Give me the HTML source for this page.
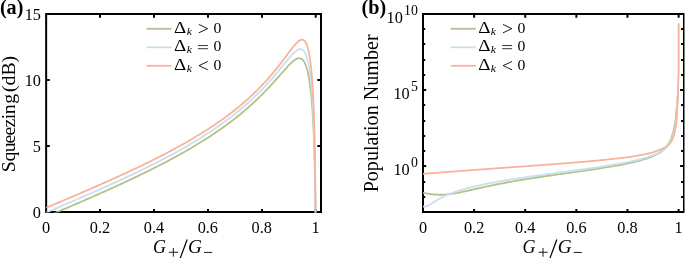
<!DOCTYPE html>
<html><head><meta charset="utf-8"><title>fig</title>
<style>html,body{margin:0;padding:0;background:#fff;}svg{display:block;}text{font-family:"Liberation Serif",serif;fill:#000;}</style></head><body>
<svg width="685" height="258" viewBox="0 0 685 258">
<rect width="685" height="258" fill="#fff"/>
<path d="M99.00 209.00H101.00V212.00H99.00Z M99.00 14.00H101.00V17.80H99.00Z M153.00 209.00H155.00V212.00H153.00Z M153.00 14.00H155.00V17.80H153.00Z M207.00 209.00H209.00V212.00H207.00Z M207.00 14.00H209.00V17.80H207.00Z M261.00 209.00H263.00V212.00H261.00Z M261.00 14.00H263.00V17.80H261.00Z M314.70 209.00H316.70V212.00H314.70Z M314.70 14.00H316.70V17.80H314.70Z M46.15 145.00H49.80V147.00H46.15Z M317.30 145.00H321.00V147.00H317.30Z M46.15 79.00H49.80V81.00H46.15Z M317.30 79.00H321.00V81.00H317.30Z" fill="#000"/>
<rect x="46.15" y="14.00" width="274.85" height="198.00" fill="none" stroke="#000" stroke-width="2"/>
<path d="M473.12 209.00H475.12V212.00H473.12Z M473.12 14.00H475.12V17.70H473.12Z M524.24 209.00H526.24V212.00H524.24Z M524.24 14.00H526.24V17.70H524.24Z M575.36 209.00H577.36V212.00H575.36Z M575.36 14.00H577.36V17.70H575.36Z M626.48 209.00H628.48V212.00H626.48Z M626.48 14.00H628.48V17.70H626.48Z M677.60 209.00H679.60V212.00H677.60Z M677.60 14.00H679.60V17.70H677.60Z M423.00 28.00H425.20V30.00H423.00Z M681.10 28.00H684.00V30.00H681.10Z M423.00 43.00H425.20V45.00H423.00Z M681.10 43.00H684.00V45.00H681.10Z M423.00 59.00H425.20V61.00H423.00Z M681.10 59.00H684.00V61.00H681.10Z M423.00 74.00H425.20V76.00H423.00Z M681.10 74.00H684.00V76.00H681.10Z M423.00 89.00H426.20V91.00H423.00Z M680.10 89.00H684.00V91.00H680.10Z M423.00 104.00H425.20V106.00H423.00Z M681.10 104.00H684.00V106.00H681.10Z M423.00 120.00H425.20V122.00H423.00Z M681.10 120.00H684.00V122.00H681.10Z M423.00 135.00H425.20V137.00H423.00Z M681.10 135.00H684.00V137.00H681.10Z M423.00 150.00H425.20V152.00H423.00Z M681.10 150.00H684.00V152.00H681.10Z M423.00 165.00H426.20V167.00H423.00Z M680.10 165.00H684.00V167.00H680.10Z M423.00 181.00H425.20V183.00H423.00Z M681.10 181.00H684.00V183.00H681.10Z M423.00 196.00H425.20V198.00H423.00Z M681.10 196.00H684.00V198.00H681.10Z" fill="#000"/>
<rect x="423.00" y="14.00" width="261.00" height="198.00" fill="none" stroke="#000" stroke-width="2"/>
<g fill="none" stroke-width="1.80" stroke-linejoin="round">
<clipPath id="ca"><rect x="45.85" y="14.00" width="274.85" height="198.40"/></clipPath>
<g clip-path="url(#ca)">
<path d="M46.30 216.71 L47.52 216.19 L48.74 215.67 L49.95 215.15 L51.17 214.63 L52.39 214.11 L53.61 213.59 L54.83 213.06 L56.04 212.54 L57.26 212.02 L58.48 211.50 L59.70 210.98 L60.92 210.46 L62.13 209.94 L63.35 209.41 L64.57 208.89 L65.79 208.37 L67.01 207.85 L68.22 207.32 L69.44 206.80 L70.66 206.27 L71.88 205.75 L73.10 205.23 L74.31 204.70 L75.53 204.17 L76.75 203.65 L77.97 203.12 L79.19 202.59 L80.40 202.07 L81.62 201.54 L82.84 201.01 L84.06 200.48 L85.28 199.95 L86.49 199.42 L87.71 198.89 L88.93 198.35 L90.15 197.82 L91.37 197.29 L92.58 196.75 L93.80 196.22 L95.02 195.68 L96.24 195.14 L97.46 194.60 L98.67 194.06 L99.89 193.52 L101.11 192.98 L102.33 192.44 L103.55 191.90 L104.76 191.36 L105.98 190.81 L107.20 190.26 L108.42 189.72 L109.64 189.17 L110.85 188.62 L112.07 188.07 L113.29 187.52 L114.51 186.96 L115.73 186.41 L116.94 185.85 L118.16 185.30 L119.38 184.74 L120.60 184.18 L121.82 183.62 L123.03 183.05 L124.25 182.49 L125.47 181.92 L126.69 181.35 L127.91 180.79 L129.12 180.21 L130.34 179.64 L131.56 179.07 L132.78 178.49 L134.00 177.91 L135.21 177.34 L136.43 176.75 L137.65 176.17 L138.87 175.59 L140.09 175.00 L141.30 174.41 L142.52 173.82 L143.74 173.23 L144.96 172.63 L146.18 172.03 L147.39 171.43 L148.61 170.83 L149.83 170.23 L151.05 169.62 L152.27 169.01 L153.48 168.40 L154.70 167.79 L155.92 167.17 L157.14 166.55 L158.36 165.93 L159.57 165.31 L160.79 164.68 L162.01 164.05 L163.23 163.42 L164.45 162.79 L165.66 162.15 L166.88 161.51 L168.10 160.86 L169.32 160.22 L170.54 159.57 L171.75 158.91 L172.97 158.26 L174.19 157.60 L175.41 156.93 L176.63 156.27 L177.84 155.60 L179.06 154.92 L180.28 154.24 L181.50 153.56 L182.72 152.88 L183.93 152.19 L185.15 151.49 L186.37 150.80 L187.59 150.10 L188.81 149.39 L190.02 148.68 L191.24 147.97 L192.46 147.25 L193.68 146.52 L194.90 145.80 L196.11 145.06 L197.33 144.33 L198.55 143.58 L199.77 142.84 L200.99 142.08 L202.20 141.33 L203.42 140.56 L204.64 139.80 L205.86 139.02 L207.08 138.24 L208.29 137.46 L209.51 136.66 L210.73 135.87 L211.95 135.06 L213.17 134.25 L214.38 133.44 L215.60 132.61 L216.82 131.78 L218.04 130.95 L219.26 130.10 L220.47 129.25 L221.69 128.39 L222.91 127.53 L224.13 126.65 L225.35 125.77 L226.56 124.88 L227.78 123.98 L229.00 123.08 L230.22 122.16 L231.44 121.24 L232.65 120.31 L233.87 119.37 L235.09 118.41 L236.31 117.45 L237.53 116.48 L238.74 115.50 L239.96 114.51 L241.18 113.51 L242.40 112.50 L243.62 111.48 L244.83 110.44 L246.05 109.40 L247.27 108.34 L248.49 107.27 L249.71 106.19 L250.92 105.10 L252.14 103.99 L253.36 102.88 L254.58 101.74 L255.80 100.60 L257.01 99.44 L258.23 98.27 L259.45 97.08 L260.67 95.89 L261.89 94.67 L263.10 93.44 L264.32 92.20 L265.54 90.95 L266.76 89.68 L267.98 88.39 L269.19 87.10 L270.41 85.78 L271.63 84.46 L272.85 83.12 L274.07 81.78 L275.28 80.42 L276.50 79.05 L277.72 77.67 L278.94 76.29 L280.16 74.91 L281.37 73.52 L282.59 72.14 L283.81 70.76 L285.03 69.40 L286.25 68.05 L287.46 66.73 L288.68 65.44 L288.75 65.37 L288.82 65.30 L288.88 65.23 L288.95 65.16 L289.02 65.10 L289.09 65.03 L289.15 64.96 L289.22 64.89 L289.29 64.82 L289.36 64.75 L289.42 64.68 L289.49 64.61 L289.56 64.55 L289.63 64.48 L289.69 64.41 L289.76 64.34 L289.83 64.27 L289.90 64.21 L289.96 64.14 L290.03 64.07 L290.10 64.01 L290.17 63.94 L290.23 63.87 L290.30 63.81 L290.37 63.74 L290.44 63.67 L290.50 63.61 L290.57 63.54 L290.64 63.48 L290.71 63.41 L290.77 63.35 L290.84 63.28 L290.91 63.22 L290.98 63.16 L291.04 63.09 L291.11 63.03 L291.18 62.96 L291.25 62.90 L291.31 62.84 L291.38 62.78 L291.45 62.71 L291.52 62.65 L291.58 62.59 L291.65 62.53 L291.72 62.47 L291.79 62.40 L291.85 62.34 L291.92 62.28 L291.99 62.22 L292.06 62.16 L292.12 62.10 L292.19 62.04 L292.26 61.98 L292.33 61.92 L292.39 61.87 L292.46 61.81 L292.53 61.75 L292.60 61.69 L292.66 61.63 L292.73 61.58 L292.80 61.52 L292.87 61.46 L292.93 61.41 L293.00 61.35 L293.07 61.29 L293.14 61.24 L293.20 61.18 L293.27 61.13 L293.34 61.07 L293.41 61.02 L293.47 60.97 L293.54 60.91 L293.61 60.86 L293.68 60.81 L293.74 60.76 L293.81 60.70 L293.88 60.65 L293.95 60.60 L294.01 60.55 L294.08 60.50 L294.15 60.45 L294.22 60.40 L294.28 60.35 L294.35 60.30 L294.42 60.26 L294.49 60.21 L294.55 60.16 L294.62 60.11 L294.69 60.07 L294.76 60.02 L294.82 59.98 L294.89 59.93 L294.96 59.89 L295.03 59.84 L295.09 59.80 L295.16 59.75 L295.23 59.71 L295.30 59.67 L295.36 59.63 L295.43 59.59 L295.50 59.55 L295.57 59.50 L295.63 59.47 L295.70 59.43 L295.77 59.39 L295.84 59.35 L295.90 59.31 L295.97 59.27 L296.04 59.24 L296.11 59.20 L296.17 59.17 L296.24 59.13 L296.31 59.10 L296.38 59.06 L296.44 59.03 L296.51 59.00 L296.58 58.97 L296.65 58.94 L296.71 58.90 L296.78 58.87 L296.85 58.85 L296.92 58.82 L296.98 58.79 L297.05 58.76 L297.12 58.73 L297.19 58.71 L297.25 58.68 L297.32 58.66 L297.39 58.64 L297.46 58.61 L297.52 58.59 L297.59 58.57 L297.66 58.55 L297.73 58.53 L297.79 58.51 L297.86 58.49 L297.93 58.47 L298.00 58.45 L298.06 58.44 L298.13 58.42 L298.20 58.41 L298.27 58.39 L298.33 58.38 L298.40 58.37 L298.47 58.36 L298.54 58.35 L298.60 58.34 L298.67 58.33 L298.74 58.32 L298.81 58.31 L298.87 58.31 L298.94 58.30 L299.01 58.30 L299.08 58.29 L299.14 58.29 L299.21 58.29 L299.28 58.29 L299.35 58.29 L299.41 58.29 L299.48 58.29 L299.55 58.30 L299.62 58.30 L299.68 58.31 L299.75 58.31 L299.82 58.32 L299.89 58.33 L299.95 58.34 L300.02 58.35 L300.09 58.36 L300.16 58.38 L300.22 58.39 L300.29 58.41 L300.36 58.42 L300.43 58.44 L300.49 58.46 L300.56 58.48 L300.63 58.50 L300.70 58.53 L300.76 58.55 L300.83 58.58 L300.90 58.60 L300.97 58.63 L301.03 58.66 L301.10 58.69 L301.17 58.72 L301.24 58.76 L301.30 58.79 L301.37 58.83 L301.44 58.87 L301.51 58.91 L301.57 58.95 L301.64 58.99 L301.71 59.03 L301.78 59.08 L301.84 59.12 L301.91 59.17 L301.98 59.22 L302.05 59.27 L302.11 59.32 L302.18 59.38 L302.25 59.43 L302.32 59.49 L302.38 59.55 L302.45 59.61 L302.52 59.68 L302.59 59.74 L302.65 59.81 L302.72 59.87 L302.79 59.94 L302.86 60.02 L302.92 60.09 L302.99 60.16 L303.06 60.24 L303.13 60.32 L303.19 60.40 L303.26 60.48 L303.33 60.57 L303.40 60.66 L303.46 60.75 L303.53 60.84 L303.60 60.93 L303.67 61.02 L303.73 61.12 L303.80 61.22 L303.87 61.32 L303.94 61.43 L304.00 61.53 L304.07 61.64 L304.14 61.75 L304.21 61.86 L304.27 61.98 L304.34 62.10 L304.41 62.22 L304.48 62.34 L304.54 62.47 L304.61 62.59 L304.68 62.72 L304.75 62.85 L304.81 62.99 L304.88 63.13 L304.95 63.27 L305.02 63.41 L305.08 63.56 L305.15 63.71 L305.22 63.86 L305.29 64.01 L305.35 64.17 L305.42 64.33 L305.49 64.49 L305.56 64.66 L305.62 64.82 L305.69 65.00 L305.76 65.17 L305.83 65.35 L305.89 65.53 L305.96 65.71 L306.03 65.90 L306.10 66.09 L306.16 66.29 L306.23 66.49 L306.30 66.69 L306.37 66.89 L306.43 67.10 L306.50 67.31 L306.57 67.53 L306.64 67.74 L306.70 67.97 L306.77 68.19 L306.84 68.42 L306.91 68.66 L306.97 68.90 L307.04 69.14 L307.11 69.38 L307.18 69.63 L307.24 69.89 L307.31 70.15 L307.38 70.41 L307.45 70.68 L307.51 70.95 L307.58 71.23 L307.65 71.51 L307.72 71.79 L307.78 72.08 L307.85 72.38 L307.92 72.68 L307.99 72.98 L308.05 73.29 L308.12 73.60 L308.19 73.92 L308.26 74.25 L308.32 74.58 L308.39 74.91 L308.46 75.25 L308.53 75.60 L308.59 75.95 L308.66 76.31 L308.73 76.67 L308.80 77.04 L308.86 77.42 L308.93 77.80 L309.00 78.19 L309.07 78.58 L309.13 78.98 L309.20 79.39 L309.27 79.80 L309.34 80.22 L309.40 80.65 L309.47 81.09 L309.54 81.53 L309.61 81.98 L309.67 82.43 L309.74 82.90 L309.81 83.37 L309.88 83.85 L309.94 84.34 L310.01 84.83 L310.08 85.34 L310.15 85.85 L310.21 86.37 L310.28 86.90 L310.35 87.44 L310.42 87.99 L310.48 88.54 L310.55 89.11 L310.62 89.69 L310.69 90.28 L310.75 90.87 L310.82 91.48 L310.89 92.10 L310.96 92.73 L311.02 93.37 L311.09 94.03 L311.16 94.69 L311.23 95.37 L311.29 96.06 L311.36 96.76 L311.43 97.47 L311.50 98.20 L311.56 98.94 L311.63 99.70 L311.70 100.47 L311.77 101.26 L311.83 102.06 L311.90 102.88 L311.97 103.71 L312.04 104.56 L312.10 105.43 L312.17 106.32 L312.24 107.22 L312.31 108.15 L312.37 109.09 L312.44 110.05 L312.51 111.04 L312.58 112.05 L312.64 113.07 L312.71 114.13 L312.78 115.21 L312.85 116.31 L312.91 117.44 L312.98 118.59 L313.05 119.78 L313.12 121.00 L313.18 122.24 L313.25 123.52 L313.32 124.83 L313.39 126.18 L313.45 127.57 L313.52 128.99 L313.59 130.46 L313.66 131.97 L313.72 133.52 L313.79 135.12 L313.86 136.78 L313.93 138.48 L313.99 140.25 L314.06 142.07 L314.13 143.97 L314.20 145.93 L314.26 147.96 L314.33 150.07 L314.40 152.27 L314.47 154.57 L314.53 156.96 L314.60 159.46 L314.67 162.08 L314.74 164.83 L314.80 167.73 L314.87 170.78 L314.94 174.01 L315.01 177.44 L315.07 181.09 L315.14 184.99 L315.21 189.19 L315.28 193.72 L315.34 198.64 L315.41 204.03 L315.48 209.98 L315.55 216.63 L315.61 224.16" stroke="#b5c18a"/>
<path d="M46.30 212.59 L47.52 212.07 L48.74 211.55 L49.95 211.02 L51.17 210.50 L52.39 209.98 L53.61 209.46 L54.83 208.94 L56.04 208.41 L57.26 207.89 L58.48 207.37 L59.70 206.84 L60.92 206.32 L62.13 205.80 L63.35 205.27 L64.57 204.75 L65.79 204.23 L67.01 203.70 L68.22 203.18 L69.44 202.65 L70.66 202.13 L71.88 201.60 L73.10 201.07 L74.31 200.55 L75.53 200.02 L76.75 199.49 L77.97 198.96 L79.19 198.43 L80.40 197.90 L81.62 197.37 L82.84 196.84 L84.06 196.31 L85.28 195.78 L86.49 195.25 L87.71 194.71 L88.93 194.18 L90.15 193.64 L91.37 193.11 L92.58 192.57 L93.80 192.04 L95.02 191.50 L96.24 190.96 L97.46 190.42 L98.67 189.88 L99.89 189.34 L101.11 188.79 L102.33 188.25 L103.55 187.70 L104.76 187.16 L105.98 186.61 L107.20 186.06 L108.42 185.51 L109.64 184.96 L110.85 184.41 L112.07 183.86 L113.29 183.31 L114.51 182.75 L115.73 182.19 L116.94 181.64 L118.16 181.08 L119.38 180.52 L120.60 179.96 L121.82 179.39 L123.03 178.83 L124.25 178.26 L125.47 177.69 L126.69 177.12 L127.91 176.55 L129.12 175.98 L130.34 175.40 L131.56 174.83 L132.78 174.25 L134.00 173.67 L135.21 173.09 L136.43 172.51 L137.65 171.92 L138.87 171.33 L140.09 170.74 L141.30 170.15 L142.52 169.56 L143.74 168.96 L144.96 168.37 L146.18 167.77 L147.39 167.16 L148.61 166.56 L149.83 165.95 L151.05 165.34 L152.27 164.73 L153.48 164.12 L154.70 163.50 L155.92 162.88 L157.14 162.26 L158.36 161.64 L159.57 161.01 L160.79 160.38 L162.01 159.75 L163.23 159.12 L164.45 158.48 L165.66 157.84 L166.88 157.19 L168.10 156.55 L169.32 155.90 L170.54 155.24 L171.75 154.59 L172.97 153.93 L174.19 153.26 L175.41 152.60 L176.63 151.93 L177.84 151.25 L179.06 150.57 L180.28 149.89 L181.50 149.21 L182.72 148.52 L183.93 147.83 L185.15 147.13 L186.37 146.43 L187.59 145.72 L188.81 145.01 L190.02 144.30 L191.24 143.58 L192.46 142.86 L193.68 142.13 L194.90 141.40 L196.11 140.66 L197.33 139.92 L198.55 139.17 L199.77 138.42 L200.99 137.66 L202.20 136.90 L203.42 136.13 L204.64 135.35 L205.86 134.57 L207.08 133.79 L208.29 133.00 L209.51 132.20 L210.73 131.39 L211.95 130.58 L213.17 129.77 L214.38 128.94 L215.60 128.11 L216.82 127.27 L218.04 126.43 L219.26 125.58 L220.47 124.72 L221.69 123.85 L222.91 122.98 L224.13 122.10 L225.35 121.20 L226.56 120.31 L227.78 119.40 L229.00 118.48 L230.22 117.56 L231.44 116.62 L232.65 115.68 L233.87 114.72 L235.09 113.76 L236.31 112.79 L237.53 111.80 L238.74 110.81 L239.96 109.81 L241.18 108.79 L242.40 107.76 L243.62 106.72 L244.83 105.67 L246.05 104.61 L247.27 103.53 L248.49 102.45 L249.71 101.35 L250.92 100.23 L252.14 99.10 L253.36 97.96 L254.58 96.81 L255.80 95.63 L257.01 94.45 L258.23 93.25 L259.45 92.03 L260.67 90.80 L261.89 89.55 L263.10 88.29 L264.32 87.01 L265.54 85.71 L266.76 84.40 L267.98 83.07 L269.19 81.72 L270.41 80.36 L271.63 78.98 L272.85 77.58 L274.07 76.17 L275.28 74.75 L276.50 73.30 L277.72 71.85 L278.94 70.38 L280.16 68.91 L281.37 67.42 L282.59 65.93 L283.81 64.44 L285.03 62.95 L286.25 61.47 L287.46 60.00 L288.68 58.55 L288.75 58.47 L288.82 58.39 L288.88 58.31 L288.95 58.23 L289.02 58.16 L289.09 58.08 L289.15 58.00 L289.22 57.92 L289.29 57.84 L289.36 57.76 L289.42 57.68 L289.49 57.61 L289.56 57.53 L289.63 57.45 L289.69 57.37 L289.76 57.29 L289.83 57.22 L289.90 57.14 L289.96 57.06 L290.03 56.99 L290.10 56.91 L290.17 56.83 L290.23 56.76 L290.30 56.68 L290.37 56.60 L290.44 56.53 L290.50 56.45 L290.57 56.37 L290.64 56.30 L290.71 56.22 L290.77 56.15 L290.84 56.07 L290.91 56.00 L290.98 55.92 L291.04 55.85 L291.11 55.77 L291.18 55.70 L291.25 55.62 L291.31 55.55 L291.38 55.48 L291.45 55.40 L291.52 55.33 L291.58 55.26 L291.65 55.18 L291.72 55.11 L291.79 55.04 L291.85 54.96 L291.92 54.89 L291.99 54.82 L292.06 54.75 L292.12 54.68 L292.19 54.61 L292.26 54.53 L292.33 54.46 L292.39 54.39 L292.46 54.32 L292.53 54.25 L292.60 54.18 L292.66 54.11 L292.73 54.04 L292.80 53.97 L292.87 53.90 L292.93 53.84 L293.00 53.77 L293.07 53.70 L293.14 53.63 L293.20 53.56 L293.27 53.50 L293.34 53.43 L293.41 53.36 L293.47 53.30 L293.54 53.23 L293.61 53.16 L293.68 53.10 L293.74 53.03 L293.81 52.97 L293.88 52.90 L293.95 52.84 L294.01 52.78 L294.08 52.71 L294.15 52.65 L294.22 52.59 L294.28 52.52 L294.35 52.46 L294.42 52.40 L294.49 52.34 L294.55 52.28 L294.62 52.22 L294.69 52.16 L294.76 52.10 L294.82 52.04 L294.89 51.98 L294.96 51.92 L295.03 51.86 L295.09 51.80 L295.16 51.75 L295.23 51.69 L295.30 51.63 L295.36 51.58 L295.43 51.52 L295.50 51.46 L295.57 51.41 L295.63 51.35 L295.70 51.30 L295.77 51.25 L295.84 51.19 L295.90 51.14 L295.97 51.09 L296.04 51.04 L296.11 50.99 L296.17 50.94 L296.24 50.89 L296.31 50.84 L296.38 50.79 L296.44 50.74 L296.51 50.69 L296.58 50.64 L296.65 50.60 L296.71 50.55 L296.78 50.50 L296.85 50.46 L296.92 50.41 L296.98 50.37 L297.05 50.33 L297.12 50.28 L297.19 50.24 L297.25 50.20 L297.32 50.16 L297.39 50.12 L297.46 50.08 L297.52 50.04 L297.59 50.00 L297.66 49.96 L297.73 49.93 L297.79 49.89 L297.86 49.86 L297.93 49.82 L298.00 49.79 L298.06 49.75 L298.13 49.72 L298.20 49.69 L298.27 49.66 L298.33 49.63 L298.40 49.60 L298.47 49.57 L298.54 49.54 L298.60 49.51 L298.67 49.49 L298.74 49.46 L298.81 49.44 L298.87 49.41 L298.94 49.39 L299.01 49.37 L299.08 49.35 L299.14 49.33 L299.21 49.31 L299.28 49.29 L299.35 49.27 L299.41 49.25 L299.48 49.24 L299.55 49.22 L299.62 49.21 L299.68 49.20 L299.75 49.18 L299.82 49.17 L299.89 49.16 L299.95 49.15 L300.02 49.15 L300.09 49.14 L300.16 49.13 L300.22 49.13 L300.29 49.13 L300.36 49.12 L300.43 49.12 L300.49 49.12 L300.56 49.12 L300.63 49.13 L300.70 49.13 L300.76 49.13 L300.83 49.14 L300.90 49.15 L300.97 49.16 L301.03 49.17 L301.10 49.18 L301.17 49.19 L301.24 49.20 L301.30 49.22 L301.37 49.23 L301.44 49.25 L301.51 49.27 L301.57 49.29 L301.64 49.31 L301.71 49.34 L301.78 49.36 L301.84 49.39 L301.91 49.41 L301.98 49.44 L302.05 49.47 L302.11 49.51 L302.18 49.54 L302.25 49.58 L302.32 49.61 L302.38 49.65 L302.45 49.69 L302.52 49.73 L302.59 49.78 L302.65 49.82 L302.72 49.87 L302.79 49.92 L302.86 49.97 L302.92 50.02 L302.99 50.08 L303.06 50.13 L303.13 50.19 L303.19 50.25 L303.26 50.31 L303.33 50.38 L303.40 50.44 L303.46 50.51 L303.53 50.58 L303.60 50.65 L303.67 50.73 L303.73 50.81 L303.80 50.88 L303.87 50.96 L303.94 51.05 L304.00 51.13 L304.07 51.22 L304.14 51.31 L304.21 51.40 L304.27 51.49 L304.34 51.59 L304.41 51.69 L304.48 51.79 L304.54 51.90 L304.61 52.00 L304.68 52.11 L304.75 52.22 L304.81 52.34 L304.88 52.45 L304.95 52.57 L305.02 52.69 L305.08 52.82 L305.15 52.95 L305.22 53.08 L305.29 53.21 L305.35 53.35 L305.42 53.49 L305.49 53.63 L305.56 53.77 L305.62 53.92 L305.69 54.07 L305.76 54.23 L305.83 54.39 L305.89 54.55 L305.96 54.71 L306.03 54.88 L306.10 55.05 L306.16 55.22 L306.23 55.40 L306.30 55.58 L306.37 55.77 L306.43 55.96 L306.50 56.15 L306.57 56.34 L306.64 56.54 L306.70 56.75 L306.77 56.96 L306.84 57.17 L306.91 57.38 L306.97 57.60 L307.04 57.82 L307.11 58.05 L307.18 58.28 L307.24 58.52 L307.31 58.76 L307.38 59.01 L307.45 59.26 L307.51 59.51 L307.58 59.77 L307.65 60.03 L307.72 60.30 L307.78 60.57 L307.85 60.85 L307.92 61.13 L307.99 61.42 L308.05 61.71 L308.12 62.01 L308.19 62.32 L308.26 62.63 L308.32 62.94 L308.39 63.26 L308.46 63.59 L308.53 63.92 L308.59 64.26 L308.66 64.60 L308.73 64.95 L308.80 65.31 L308.86 65.67 L308.93 66.04 L309.00 66.41 L309.07 66.79 L309.13 67.18 L309.20 67.58 L309.27 67.98 L309.34 68.39 L309.40 68.81 L309.47 69.23 L309.54 69.66 L309.61 70.10 L309.67 70.55 L309.74 71.00 L309.81 71.47 L309.88 71.94 L309.94 72.42 L310.01 72.91 L310.08 73.41 L310.15 73.91 L310.21 74.43 L310.28 74.95 L310.35 75.49 L310.42 76.03 L310.48 76.59 L310.55 77.15 L310.62 77.73 L310.69 78.31 L310.75 78.91 L310.82 79.52 L310.89 80.13 L310.96 80.77 L311.02 81.41 L311.09 82.06 L311.16 82.73 L311.23 83.41 L311.29 84.11 L311.36 84.81 L311.43 85.54 L311.50 86.27 L311.56 87.02 L311.63 87.79 L311.70 88.57 L311.77 89.37 L311.83 90.18 L311.90 91.01 L311.97 91.86 L312.04 92.73 L312.10 93.62 L312.17 94.52 L312.24 95.45 L312.31 96.39 L312.37 97.36 L312.44 98.35 L312.51 99.36 L312.58 100.39 L312.64 101.45 L312.71 102.54 L312.78 103.65 L312.85 104.79 L312.91 105.96 L312.98 107.16 L313.05 108.39 L313.12 109.65 L313.18 110.95 L313.25 112.28 L313.32 113.65 L313.39 115.06 L313.45 116.51 L313.52 118.00 L313.59 119.54 L313.66 121.13 L313.72 122.76 L313.79 124.46 L313.86 126.20 L313.93 128.02 L313.99 129.89 L314.06 131.83 L314.13 133.85 L314.20 135.95 L314.26 138.14 L314.33 140.41 L314.40 142.79 L314.47 145.27 L314.53 147.88 L314.60 150.61 L314.67 153.48 L314.74 156.52 L314.80 159.73 L314.87 163.13 L314.94 166.76 L315.01 170.64 L315.07 174.80 L315.14 179.30 L315.21 184.18 L315.28 189.53 L315.34 195.43 L315.41 202.02 L315.48 209.47 L315.55 218.04 L315.61 228.13" stroke="#c8e0ee"/>
<path d="M46.30 207.74 L47.52 207.22 L48.74 206.70 L49.95 206.19 L51.17 205.67 L52.39 205.16 L53.61 204.64 L54.83 204.12 L56.04 203.61 L57.26 203.09 L58.48 202.57 L59.70 202.06 L60.92 201.54 L62.13 201.02 L63.35 200.51 L64.57 199.99 L65.79 199.47 L67.01 198.95 L68.22 198.43 L69.44 197.91 L70.66 197.39 L71.88 196.87 L73.10 196.35 L74.31 195.83 L75.53 195.31 L76.75 194.79 L77.97 194.27 L79.19 193.74 L80.40 193.22 L81.62 192.70 L82.84 192.17 L84.06 191.65 L85.28 191.12 L86.49 190.59 L87.71 190.07 L88.93 189.54 L90.15 189.01 L91.37 188.48 L92.58 187.95 L93.80 187.42 L95.02 186.89 L96.24 186.35 L97.46 185.82 L98.67 185.29 L99.89 184.75 L101.11 184.21 L102.33 183.68 L103.55 183.14 L104.76 182.60 L105.98 182.06 L107.20 181.52 L108.42 180.97 L109.64 180.43 L110.85 179.88 L112.07 179.34 L113.29 178.79 L114.51 178.24 L115.73 177.69 L116.94 177.14 L118.16 176.59 L119.38 176.03 L120.60 175.48 L121.82 174.92 L123.03 174.36 L124.25 173.80 L125.47 173.24 L126.69 172.67 L127.91 172.11 L129.12 171.54 L130.34 170.98 L131.56 170.41 L132.78 169.83 L134.00 169.26 L135.21 168.68 L136.43 168.11 L137.65 167.53 L138.87 166.95 L140.09 166.36 L141.30 165.78 L142.52 165.19 L143.74 164.60 L144.96 164.01 L146.18 163.42 L147.39 162.82 L148.61 162.23 L149.83 161.62 L151.05 161.02 L152.27 160.42 L153.48 159.81 L154.70 159.20 L155.92 158.59 L157.14 157.97 L158.36 157.35 L159.57 156.73 L160.79 156.11 L162.01 155.49 L163.23 154.86 L164.45 154.22 L165.66 153.59 L166.88 152.95 L168.10 152.31 L169.32 151.67 L170.54 151.02 L171.75 150.37 L172.97 149.72 L174.19 149.06 L175.41 148.40 L176.63 147.73 L177.84 147.07 L179.06 146.40 L180.28 145.72 L181.50 145.04 L182.72 144.36 L183.93 143.67 L185.15 142.98 L186.37 142.29 L187.59 141.59 L188.81 140.88 L190.02 140.17 L191.24 139.46 L192.46 138.74 L193.68 138.02 L194.90 137.30 L196.11 136.56 L197.33 135.83 L198.55 135.09 L199.77 134.34 L200.99 133.59 L202.20 132.83 L203.42 132.07 L204.64 131.30 L205.86 130.52 L207.08 129.74 L208.29 128.96 L209.51 128.16 L210.73 127.36 L211.95 126.56 L213.17 125.75 L214.38 124.93 L215.60 124.10 L216.82 123.27 L218.04 122.43 L219.26 121.58 L220.47 120.73 L221.69 119.86 L222.91 118.99 L224.13 118.11 L225.35 117.22 L226.56 116.33 L227.78 115.42 L229.00 114.51 L230.22 113.59 L231.44 112.65 L232.65 111.71 L233.87 110.76 L235.09 109.80 L236.31 108.82 L237.53 107.84 L238.74 106.85 L239.96 105.84 L241.18 104.82 L242.40 103.79 L243.62 102.75 L244.83 101.70 L246.05 100.63 L247.27 99.55 L248.49 98.46 L249.71 97.35 L250.92 96.23 L252.14 95.09 L253.36 93.94 L254.58 92.77 L255.80 91.59 L257.01 90.39 L258.23 89.17 L259.45 87.94 L260.67 86.69 L261.89 85.42 L263.10 84.14 L264.32 82.83 L265.54 81.51 L266.76 80.16 L267.98 78.80 L269.19 77.41 L270.41 76.01 L271.63 74.58 L272.85 73.14 L274.07 71.67 L275.28 70.18 L276.50 68.68 L277.72 67.15 L278.94 65.60 L280.16 64.03 L281.37 62.45 L282.59 60.85 L283.81 59.23 L285.03 57.61 L286.25 55.98 L287.46 54.34 L288.68 52.71 L288.75 52.62 L288.82 52.53 L288.88 52.44 L288.95 52.35 L289.02 52.26 L289.09 52.17 L289.15 52.08 L289.22 51.99 L289.29 51.90 L289.36 51.81 L289.42 51.72 L289.49 51.64 L289.56 51.55 L289.63 51.46 L289.69 51.37 L289.76 51.28 L289.83 51.19 L289.90 51.10 L289.96 51.01 L290.03 50.92 L290.10 50.83 L290.17 50.74 L290.23 50.65 L290.30 50.56 L290.37 50.48 L290.44 50.39 L290.50 50.30 L290.57 50.21 L290.64 50.12 L290.71 50.03 L290.77 49.94 L290.84 49.86 L290.91 49.77 L290.98 49.68 L291.04 49.59 L291.11 49.50 L291.18 49.42 L291.25 49.33 L291.31 49.24 L291.38 49.15 L291.45 49.07 L291.52 48.98 L291.58 48.89 L291.65 48.81 L291.72 48.72 L291.79 48.63 L291.85 48.55 L291.92 48.46 L291.99 48.37 L292.06 48.29 L292.12 48.20 L292.19 48.12 L292.26 48.03 L292.33 47.94 L292.39 47.86 L292.46 47.77 L292.53 47.69 L292.60 47.60 L292.66 47.52 L292.73 47.43 L292.80 47.35 L292.87 47.26 L292.93 47.18 L293.00 47.10 L293.07 47.01 L293.14 46.93 L293.20 46.85 L293.27 46.76 L293.34 46.68 L293.41 46.60 L293.47 46.51 L293.54 46.43 L293.61 46.35 L293.68 46.27 L293.74 46.19 L293.81 46.10 L293.88 46.02 L293.95 45.94 L294.01 45.86 L294.08 45.78 L294.15 45.70 L294.22 45.62 L294.28 45.54 L294.35 45.46 L294.42 45.38 L294.49 45.30 L294.55 45.22 L294.62 45.14 L294.69 45.07 L294.76 44.99 L294.82 44.91 L294.89 44.83 L294.96 44.75 L295.03 44.68 L295.09 44.60 L295.16 44.52 L295.23 44.45 L295.30 44.37 L295.36 44.30 L295.43 44.22 L295.50 44.15 L295.57 44.07 L295.63 44.00 L295.70 43.93 L295.77 43.85 L295.84 43.78 L295.90 43.71 L295.97 43.63 L296.04 43.56 L296.11 43.49 L296.17 43.42 L296.24 43.35 L296.31 43.28 L296.38 43.21 L296.44 43.14 L296.51 43.07 L296.58 43.00 L296.65 42.93 L296.71 42.87 L296.78 42.80 L296.85 42.73 L296.92 42.67 L296.98 42.60 L297.05 42.53 L297.12 42.47 L297.19 42.41 L297.25 42.34 L297.32 42.28 L297.39 42.22 L297.46 42.15 L297.52 42.09 L297.59 42.03 L297.66 41.97 L297.73 41.91 L297.79 41.85 L297.86 41.79 L297.93 41.73 L298.00 41.67 L298.06 41.62 L298.13 41.56 L298.20 41.50 L298.27 41.45 L298.33 41.39 L298.40 41.34 L298.47 41.29 L298.54 41.23 L298.60 41.18 L298.67 41.13 L298.74 41.08 L298.81 41.03 L298.87 40.98 L298.94 40.93 L299.01 40.88 L299.08 40.83 L299.14 40.79 L299.21 40.74 L299.28 40.70 L299.35 40.65 L299.41 40.61 L299.48 40.57 L299.55 40.53 L299.62 40.49 L299.68 40.45 L299.75 40.41 L299.82 40.37 L299.89 40.33 L299.95 40.29 L300.02 40.26 L300.09 40.22 L300.16 40.19 L300.22 40.16 L300.29 40.13 L300.36 40.10 L300.43 40.07 L300.49 40.04 L300.56 40.01 L300.63 39.98 L300.70 39.96 L300.76 39.93 L300.83 39.91 L300.90 39.89 L300.97 39.86 L301.03 39.84 L301.10 39.83 L301.17 39.81 L301.24 39.79 L301.30 39.78 L301.37 39.76 L301.44 39.75 L301.51 39.74 L301.57 39.73 L301.64 39.72 L301.71 39.71 L301.78 39.70 L301.84 39.70 L301.91 39.69 L301.98 39.69 L302.05 39.69 L302.11 39.69 L302.18 39.69 L302.25 39.70 L302.32 39.70 L302.38 39.71 L302.45 39.71 L302.52 39.72 L302.59 39.74 L302.65 39.75 L302.72 39.76 L302.79 39.78 L302.86 39.80 L302.92 39.81 L302.99 39.84 L303.06 39.86 L303.13 39.88 L303.19 39.91 L303.26 39.94 L303.33 39.97 L303.40 40.00 L303.46 40.03 L303.53 40.07 L303.60 40.11 L303.67 40.14 L303.73 40.19 L303.80 40.23 L303.87 40.28 L303.94 40.32 L304.00 40.37 L304.07 40.43 L304.14 40.48 L304.21 40.54 L304.27 40.59 L304.34 40.66 L304.41 40.72 L304.48 40.78 L304.54 40.85 L304.61 40.92 L304.68 41.00 L304.75 41.07 L304.81 41.15 L304.88 41.23 L304.95 41.31 L305.02 41.40 L305.08 41.49 L305.15 41.58 L305.22 41.67 L305.29 41.77 L305.35 41.87 L305.42 41.97 L305.49 42.08 L305.56 42.19 L305.62 42.30 L305.69 42.41 L305.76 42.53 L305.83 42.65 L305.89 42.78 L305.96 42.90 L306.03 43.03 L306.10 43.17 L306.16 43.31 L306.23 43.45 L306.30 43.59 L306.37 43.74 L306.43 43.89 L306.50 44.05 L306.57 44.21 L306.64 44.37 L306.70 44.54 L306.77 44.71 L306.84 44.88 L306.91 45.06 L306.97 45.24 L307.04 45.43 L307.11 45.62 L307.18 45.82 L307.24 46.02 L307.31 46.22 L307.38 46.43 L307.45 46.65 L307.51 46.86 L307.58 47.09 L307.65 47.32 L307.72 47.55 L307.78 47.79 L307.85 48.03 L307.92 48.28 L307.99 48.53 L308.05 48.79 L308.12 49.05 L308.19 49.32 L308.26 49.60 L308.32 49.88 L308.39 50.17 L308.46 50.46 L308.53 50.76 L308.59 51.06 L308.66 51.37 L308.73 51.69 L308.80 52.01 L308.86 52.35 L308.93 52.68 L309.00 53.03 L309.07 53.38 L309.13 53.73 L309.20 54.10 L309.27 54.47 L309.34 54.85 L309.40 55.24 L309.47 55.64 L309.54 56.04 L309.61 56.45 L309.67 56.87 L309.74 57.30 L309.81 57.73 L309.88 58.18 L309.94 58.63 L310.01 59.10 L310.08 59.57 L310.15 60.05 L310.21 60.54 L310.28 61.05 L310.35 61.56 L310.42 62.08 L310.48 62.61 L310.55 63.16 L310.62 63.71 L310.69 64.28 L310.75 64.86 L310.82 65.45 L310.89 66.05 L310.96 66.66 L311.02 67.29 L311.09 67.93 L311.16 68.58 L311.23 69.25 L311.29 69.93 L311.36 70.63 L311.43 71.34 L311.50 72.07 L311.56 72.81 L311.63 73.57 L311.70 74.35 L311.77 75.14 L311.83 75.95 L311.90 76.78 L311.97 77.63 L312.04 78.50 L312.10 79.38 L312.17 80.29 L312.24 81.22 L312.31 82.17 L312.37 83.15 L312.44 84.15 L312.51 85.17 L312.58 86.22 L312.64 87.30 L312.71 88.40 L312.78 89.54 L312.85 90.70 L312.91 91.90 L312.98 93.12 L313.05 94.38 L313.12 95.68 L313.18 97.02 L313.25 98.39 L313.32 99.81 L313.39 101.26 L313.45 102.77 L313.52 104.32 L313.59 105.92 L313.66 107.58 L313.72 109.29 L313.79 111.07 L313.86 112.90 L313.93 114.81 L313.99 116.79 L314.06 118.85 L314.13 120.99 L314.20 123.23 L314.26 125.56 L314.33 128.00 L314.40 130.56 L314.47 133.24 L314.53 136.06 L314.60 139.04 L314.67 142.19 L314.74 145.53 L314.80 149.08 L314.87 152.88 L314.94 156.95 L315.01 161.35 L315.07 166.12 L315.14 171.33 L315.21 177.06 L315.28 183.45 L315.34 190.65 L315.41 198.89 L315.48 208.52 L315.55 220.12 L315.61 234.68" stroke="#f9b39b"/>
</g>
<path d="M423.00 192.89 L424.50 193.17 L426.00 193.44 L427.50 193.69 L429.00 193.92 L430.50 194.12 L432.00 194.30 L433.50 194.44 L435.00 194.56 L436.50 194.65 L438.00 194.71 L439.50 194.74 L441.00 194.73 L442.50 194.69 L444.00 194.62 L445.50 194.53 L447.00 194.40 L448.50 194.25 L450.00 194.07 L451.50 193.87 L453.00 193.65 L454.50 193.40 L456.00 193.14 L457.50 192.87 L459.00 192.58 L460.50 192.28 L462.00 191.98 L463.50 191.66 L465.00 191.34 L466.50 191.01 L468.00 190.68 L469.50 190.34 L471.00 190.00 L472.50 189.67 L474.00 189.33 L475.50 188.99 L477.00 188.65 L478.50 188.31 L480.00 187.98 L481.50 187.65 L483.00 187.32 L484.50 186.99 L486.00 186.67 L487.50 186.34 L489.00 186.03 L490.50 185.71 L492.00 185.40 L493.50 185.09 L495.00 184.79 L496.50 184.49 L498.00 184.19 L499.50 183.89 L501.00 183.60 L502.50 183.32 L504.00 183.03 L505.50 182.75 L507.00 182.47 L508.50 182.20 L510.00 181.93 L511.50 181.66 L513.00 181.39 L514.50 181.13 L516.00 180.87 L517.50 180.61 L519.00 180.36 L520.50 180.11 L522.00 179.86 L523.50 179.61 L525.00 179.37 L526.50 179.13 L528.00 178.89 L529.50 178.65 L531.00 178.41 L532.50 178.18 L534.00 177.95 L535.50 177.72 L537.00 177.49 L538.50 177.26 L540.00 177.04 L541.50 176.81 L543.00 176.59 L544.50 176.37 L546.00 176.15 L547.50 175.93 L549.00 175.72 L550.50 175.50 L552.00 175.28 L553.50 175.07 L555.00 174.86 L556.50 174.64 L558.00 174.43 L559.50 174.22 L561.00 174.01 L562.50 173.80 L564.00 173.59 L565.50 173.38 L567.00 173.17 L568.50 172.96 L570.00 172.75 L571.50 172.54 L573.00 172.33 L574.50 172.11 L576.00 171.90 L577.50 171.69 L579.00 171.48 L580.50 171.27 L582.00 171.05 L583.50 170.84 L585.00 170.62 L586.50 170.41 L588.00 170.19 L589.50 169.97 L591.00 169.75 L592.50 169.53 L594.00 169.31 L595.50 169.08 L597.00 168.85 L598.50 168.62 L600.00 168.39 L601.50 168.16 L603.00 167.92 L604.50 167.68 L606.00 167.44 L607.50 167.19 L609.00 166.95 L610.50 166.69 L612.00 166.44 L613.50 166.18 L615.00 165.91 L616.50 165.64 L618.00 165.37 L619.50 165.09 L621.00 164.80 L622.50 164.51 L624.00 164.21 L625.50 163.91 L627.00 163.60 L628.50 163.28 L630.00 162.95 L631.50 162.61 L633.00 162.26 L634.50 161.91 L636.00 161.54 L637.50 161.16 L639.00 160.77 L640.50 160.36 L642.00 159.94 L643.50 159.50 L645.00 159.04 L646.50 158.56 L648.00 158.07 L649.50 157.54 L649.96 157.38 L650.42 157.21 L650.87 157.04 L651.00 156.99 L651.33 156.87 L651.79 156.70 L652.00 156.61 L652.23 156.51 L652.67 156.30 L653.10 156.08 L653.54 155.86 L653.96 155.62 L654.39 155.39 L654.82 155.15 L655.24 154.91 L655.67 154.68 L656.00 154.50 L656.10 154.45 L656.53 154.22 L656.97 154.00 L657.40 153.78 L657.84 153.56 L658.27 153.34 L658.71 153.12 L659.14 152.89 L659.56 152.65 L659.98 152.41 L660.00 152.40 L660.40 152.16 L660.82 151.91 L661.23 151.64 L661.64 151.38 L662.04 151.10 L662.44 150.82 L662.83 150.53 L663.00 150.40 L663.21 150.23 L663.59 149.93 L663.96 149.61 L664.33 149.28 L664.68 148.94 L665.02 148.59 L665.20 148.40 L665.34 148.24 L665.65 147.87 L665.95 147.48 L666.24 147.09 L666.52 146.69 L666.80 146.28 L667.00 146.00 L667.08 145.88 L667.35 145.48 L667.62 145.07 L667.88 144.66 L668.14 144.25 L668.40 143.84 L668.60 143.50 L668.65 143.42 L668.90 143.00 L669.14 142.58 L669.39 142.15 L669.62 141.73 L669.85 141.30 L670.07 140.86 L670.10 140.80 L670.28 140.43 L670.48 139.98 L670.68 139.54 L670.87 139.09 L671.05 138.64 L671.23 138.18 L671.30 138.00 L671.40 137.73 L671.57 137.27 L671.72 136.81 L671.88 136.35 L672.03 135.88 L672.17 135.42 L672.30 135.00 L672.31 134.95 L672.45 134.48 L672.59 134.02 L672.73 133.55 L672.86 133.08 L672.99 132.61 L673.11 132.14 L673.24 131.67 L673.35 131.20 L673.40 131.00 L673.47 130.72 L673.58 130.25 L673.68 129.77 L673.79 129.30 L673.89 128.82 L673.99 128.34 L674.09 127.87 L674.18 127.39 L674.28 126.91 L674.37 126.43 L674.46 125.95 L674.55 125.47 L674.60 125.20 L674.64 125.00 L674.72 124.52 L674.81 124.04 L674.89 123.56 L674.98 123.08 L675.06 122.60 L675.14 122.12 L675.22 121.64 L675.29 121.15 L675.37 120.67 L675.44 120.19 L675.51 119.71 L675.57 119.23 L675.60 119.00 L675.63 118.74 L675.69 118.26 L675.75 117.78 L675.81 117.29 L675.86 116.81 L675.91 116.33 L675.97 115.84 L676.02 115.36 L676.07 114.87 L676.12 114.39 L676.17 113.90 L676.21 113.42 L676.26 112.93 L676.31 112.45 L676.35 111.96 L676.40 111.48 L676.44 110.99 L676.48 110.51 L676.53 110.02 L676.57 109.54 L676.62 109.05 L676.66 108.57 L676.70 108.08 L676.75 107.60 L676.79 107.11 L676.80 107.00 L676.83 106.63 L676.88 106.14 L676.92 105.66 L676.97 105.17 L677.01 104.69 L677.06 104.20 L677.11 103.72 L677.15 103.23 L677.20 102.75 L677.24 102.26 L677.28 101.78 L677.33 101.29 L677.37 100.81 L677.41 100.32 L677.46 99.84 L677.50 99.35 L677.54 98.86 L677.57 98.38 L677.61 97.89 L677.65 97.41 L677.68 96.92 L677.71 96.44 L677.74 95.95 L677.77 95.46 L677.80 95.00 L677.80 94.98 L677.83 94.49 L677.85 94.01 L677.88 93.52 L677.91 93.03 L677.93 92.55 L677.96 92.06 L677.98 91.58" stroke="#b5c18a"/>
<path d="M677.98 91.58 L678.01 91.09 L678.03 90.60 L678.05 90.12 L678.08 89.63 L678.10 89.14 L678.12 88.66 L678.14 88.17 L678.16 87.68 L678.18 87.20 L678.20 86.71 L678.22 86.22 L678.24 85.74 L678.26 85.25 L678.28 84.76 L678.29 84.27 L678.31 83.79 L678.32 83.30 L678.34 82.81 L678.35 82.33 L678.36 81.84 L678.37 81.35 L678.38 80.87 L678.39 80.38 L678.40 80.00 L678.40 79.89 L678.41 79.41 L678.42 78.92 L678.43 78.43 L678.43 77.95 L678.44 77.46 L678.45 76.97 L678.46 76.49 L678.46 76.00 L678.47 75.51 L678.48 75.02 L678.48 74.54 L678.49 74.05 L678.50 73.56 L678.50 73.08 L678.51 72.59 L678.52 72.10 L678.52 71.62 L678.53 71.13 L678.53 70.64 L678.54 70.15 L678.54 69.67 L678.55 69.18 L678.55 68.69 L678.56 68.21 L678.56 67.72 L678.57 67.23 L678.57 66.75 L678.58 66.26 L678.58 65.77 L678.58 65.28 L678.59 64.80 L678.59 64.31 L678.59 63.82 L678.59 63.34 L678.59 62.85 L678.60 62.36 L678.60 61.87 L678.60 61.39 L678.60 60.90 L678.60 60.41 L678.60 60.00 L678.60 59.93 L678.60 59.44 L678.60 58.95 L678.60 58.47 L678.60 57.98 L678.60 57.49 L678.60 57.00 L678.60 56.52 L678.60 56.03 L678.60 55.54 L678.60 55.06 L678.60 54.57 L678.60 54.08 L678.60 53.60 L678.60 53.11 L678.60 52.62 L678.60 52.13 L678.60 51.65 L678.60 51.16 L678.60 50.67 L678.60 50.19 L678.60 49.70 L678.60 49.21 L678.60 48.73 L678.60 48.24 L678.60 47.75 L678.60 47.26 L678.60 46.78 L678.60 46.29 L678.60 45.80 L678.60 45.32 L678.60 44.83 L678.60 44.34 L678.60 43.86 L678.60 43.37 L678.60 42.88 L678.60 42.39 L678.60 41.91 L678.60 41.42 L678.60 40.93 L678.60 40.45 L678.60 39.96 L678.60 39.47 L678.60 38.98 L678.60 38.50 L678.60 38.01 L678.60 37.52 L678.60 37.04 L678.60 36.55 L678.60 36.06 L678.60 35.58 L678.60 35.09 L678.60 34.60 L678.60 34.11 L678.60 33.63 L678.60 33.14 L678.60 32.65 L678.60 32.17 L678.60 31.68 L678.60 31.19 L678.60 30.71 L678.60 30.22 L678.60 29.73 L678.60 29.24 L678.60 28.76 L678.60 28.27 L678.60 27.78 L678.60 27.30 L678.60 26.81 L678.60 26.32 L678.60 25.84 L678.60 25.35 L678.60 24.86 L678.60 24.37 L678.60 23.89 L678.60 23.40" stroke="#b5c18a" stroke-width="1.4"/>
<path d="M423.00 206.52 L424.50 206.60 L426.00 206.35 L427.50 205.82 L429.00 205.07 L430.50 204.19 L432.00 203.25 L433.50 202.29 L435.00 201.34 L436.50 200.42 L438.00 199.54 L439.50 198.70 L441.00 197.90 L442.50 197.14 L444.00 196.42 L445.50 195.73 L447.00 195.07 L448.50 194.44 L450.00 193.84 L451.50 193.26 L453.00 192.71 L454.50 192.18 L456.00 191.66 L457.50 191.17 L459.00 190.69 L460.50 190.23 L462.00 189.78 L463.50 189.35 L465.00 188.93 L466.50 188.52 L468.00 188.12 L469.50 187.73 L471.00 187.35 L472.50 186.98 L474.00 186.62 L475.50 186.27 L477.00 185.92 L478.50 185.59 L480.00 185.26 L481.50 184.93 L483.00 184.62 L484.50 184.30 L486.00 184.00 L487.50 183.70 L489.00 183.40 L490.50 183.11 L492.00 182.83 L493.50 182.54 L495.00 182.27 L496.50 181.99 L498.00 181.72 L499.50 181.46 L501.00 181.20 L502.50 180.94 L504.00 180.68 L505.50 180.43 L507.00 180.18 L508.50 179.93 L510.00 179.69 L511.50 179.45 L513.00 179.21 L514.50 178.97 L516.00 178.74 L517.50 178.51 L519.00 178.28 L520.50 178.05 L522.00 177.82 L523.50 177.60 L525.00 177.37 L526.50 177.15 L528.00 176.93 L529.50 176.72 L531.00 176.50 L532.50 176.28 L534.00 176.07 L535.50 175.86 L537.00 175.64 L538.50 175.43 L540.00 175.22 L541.50 175.02 L543.00 174.81 L544.50 174.60 L546.00 174.39 L547.50 174.19 L549.00 173.98 L550.50 173.78 L552.00 173.57 L553.50 173.37 L555.00 173.17 L556.50 172.96 L558.00 172.76 L559.50 172.56 L561.00 172.36 L562.50 172.15 L564.00 171.95 L565.50 171.75 L567.00 171.55 L568.50 171.34 L570.00 171.14 L571.50 170.94 L573.00 170.73 L574.50 170.53 L576.00 170.32 L577.50 170.12 L579.00 169.91 L580.50 169.70 L582.00 169.49 L583.50 169.28 L585.00 169.07 L586.50 168.86 L588.00 168.65 L589.50 168.44 L591.00 168.22 L592.50 168.00 L594.00 167.79 L595.50 167.56 L597.00 167.34 L598.50 167.12 L600.00 166.89 L601.50 166.66 L603.00 166.43 L604.50 166.20 L606.00 165.96 L607.50 165.72 L609.00 165.48 L610.50 165.24 L612.00 164.99 L613.50 164.73 L615.00 164.48 L616.50 164.22 L618.00 163.95 L619.50 163.68 L621.00 163.41 L622.50 163.13 L624.00 162.84 L625.50 162.55 L627.00 162.25 L628.50 161.95 L630.00 161.64 L631.50 161.32 L633.00 160.99 L634.50 160.65 L636.00 160.30 L637.50 159.95 L639.00 159.58 L640.50 159.20 L642.00 158.80 L643.50 158.39 L645.00 157.97 L646.50 157.53 L648.00 157.07 L649.50 156.59 L649.96 156.43 L650.42 156.28 L650.88 156.12 L651.00 156.08 L651.35 155.96 L651.81 155.80 L652.00 155.73 L652.26 155.63 L652.71 155.44 L653.15 155.25 L653.60 155.05 L654.04 154.84 L654.48 154.63 L654.92 154.42 L655.36 154.21 L655.80 154.00 L656.00 153.90 L656.24 153.79 L656.68 153.58 L657.11 153.37 L657.55 153.16 L657.99 152.94 L658.43 152.72 L658.86 152.50 L659.29 152.28 L659.72 152.05 L660.00 151.90 L660.15 151.82 L660.57 151.58 L660.99 151.33 L661.41 151.08 L661.83 150.83 L662.24 150.57 L662.65 150.31 L663.06 150.03 L663.25 149.90 L663.45 149.76 L663.85 149.48 L664.25 149.19 L664.65 148.90 L665.04 148.60 L665.42 148.29 L665.79 147.98 L666.14 147.65 L666.40 147.40 L666.48 147.31 L666.81 146.96 L667.13 146.59 L667.43 146.21 L667.73 145.82 L668.02 145.42 L668.30 145.02 L668.58 144.62 L668.60 144.60 L668.86 144.22 L669.12 143.82 L669.39 143.41 L669.64 142.99 L669.89 142.57 L670.14 142.15 L670.38 141.73 L670.50 141.50 L670.61 141.30 L670.83 140.87 L671.05 140.43 L671.27 139.99 L671.47 139.55 L671.68 139.11 L671.87 138.66 L671.90 138.60 L672.07 138.22 L672.26 137.77 L672.44 137.32 L672.63 136.86 L672.80 136.41 L672.95 135.95 L673.00 135.80 L673.10 135.49 L673.23 135.02 L673.36 134.55 L673.48 134.08 L673.60 133.61 L673.71 133.13 L673.82 132.66 L673.93 132.18 L674.04 131.71 L674.15 131.23 L674.20 131.00 L674.26 130.76 L674.36 130.28 L674.47 129.81 L674.58 129.33 L674.68 128.86 L674.79 128.38 L674.89 127.90 L674.99 127.43 L675.09 126.95 L675.18 126.47 L675.27 125.99 L675.35 125.51 L675.40 125.20 L675.43 125.03 L675.50 124.55 L675.57 124.07 L675.65 123.59 L675.71 123.11 L675.78 122.63 L675.85 122.14 L675.91 121.66 L675.97 121.17 L676.02 120.69 L676.08 120.21 L676.13 119.72 L676.18 119.24 L676.20 119.00 L676.22 118.75 L676.27 118.27 L676.31 117.79 L676.35 117.30 L676.39 116.82 L676.42 116.33 L676.46 115.84 L676.49 115.36 L676.53 114.87 L676.56 114.39 L676.59 113.90 L676.62 113.42 L676.65 112.93 L676.68 112.44 L676.71 111.96 L676.74 111.47 L676.77 110.99 L676.80 110.50 L676.83 110.01 L676.86 109.53 L676.90 109.04 L676.93 108.55 L676.96 108.07 L676.99 107.58 L677.00 107.50 L677.03 107.10 L677.06 106.61 L677.10 106.13 L677.14 105.64 L677.18 105.16 L677.21 104.67 L677.25 104.18 L677.29 103.70 L677.33 103.21 L677.37 102.73 L677.41 102.24 L677.45 101.76 L677.49 101.27 L677.52 100.79 L677.56 100.30 L677.60 99.82 L677.63 99.33 L677.67 98.84 L677.70 98.36 L677.74 97.87 L677.77 97.39 L677.80 96.90 L677.83 96.42 L677.85 95.93 L677.88 95.44 L677.90 95.00 L677.90 94.96 L677.92 94.47 L677.95 93.99 L677.97 93.50 L677.99 93.01 L678.01 92.53 L678.03 92.04 L678.05 91.55" stroke="#c8e0ee"/>
<path d="M678.05 91.55 L678.07 91.07 L678.09 90.58 L678.11 90.09 L678.13 89.61 L678.15 89.12 L678.17 88.63 L678.18 88.15 L678.20 87.66 L678.22 87.17 L678.23 86.69 L678.25 86.20 L678.27 85.71 L678.28 85.23 L678.29 84.74 L678.31 84.25 L678.32 83.77 L678.33 83.28 L678.34 82.79 L678.36 82.31 L678.37 81.82 L678.38 81.33 L678.39 80.85 L678.39 80.36 L678.40 80.00 L678.40 79.87 L678.41 79.39 L678.42 78.90 L678.42 78.41 L678.43 77.93 L678.44 77.44 L678.45 76.95 L678.45 76.47 L678.46 75.98 L678.47 75.49 L678.48 75.01 L678.48 74.52 L678.49 74.03 L678.50 73.55 L678.50 73.06 L678.51 72.57 L678.51 72.09 L678.52 71.60 L678.53 71.11 L678.53 70.62 L678.54 70.14 L678.54 69.65 L678.55 69.16 L678.55 68.68 L678.56 68.19 L678.56 67.70 L678.57 67.22 L678.57 66.73 L678.57 66.24 L678.58 65.76 L678.58 65.27 L678.58 64.78 L678.59 64.30 L678.59 63.81 L678.59 63.32 L678.59 62.83 L678.60 62.35 L678.60 61.86 L678.60 61.37 L678.60 60.89 L678.60 60.40 L678.60 60.00 L678.60 59.91 L678.60 59.43 L678.60 58.94 L678.60 58.45 L678.60 57.97 L678.60 57.48 L678.60 56.99 L678.60 56.51 L678.60 56.02 L678.60 55.53 L678.60 55.05 L678.60 54.56 L678.60 54.07 L678.60 53.58 L678.60 53.10 L678.60 52.61 L678.60 52.12 L678.60 51.64 L678.60 51.15 L678.60 50.66 L678.60 50.18 L678.60 49.69 L678.60 49.20 L678.60 48.72 L678.60 48.23 L678.60 47.74 L678.60 47.26 L678.60 46.77 L678.60 46.28 L678.60 45.80 L678.60 45.31 L678.60 44.82 L678.60 44.33 L678.60 43.85 L678.60 43.36 L678.60 42.87 L678.60 42.39 L678.60 41.90 L678.60 41.41 L678.60 40.93 L678.60 40.44 L678.60 39.95 L678.60 39.47 L678.60 38.98 L678.60 38.49 L678.60 38.01 L678.60 37.52 L678.60 37.03 L678.60 36.55 L678.60 36.06 L678.60 35.57 L678.60 35.08 L678.60 34.60 L678.60 34.11 L678.60 33.62 L678.60 33.14 L678.60 32.65 L678.60 32.16 L678.60 31.68 L678.60 31.19 L678.60 30.70 L678.60 30.22 L678.60 29.73 L678.60 29.24 L678.60 28.76 L678.60 28.27 L678.60 27.78 L678.60 27.29 L678.60 26.81 L678.60 26.32 L678.60 25.83 L678.60 25.35 L678.60 24.86 L678.60 24.37 L678.60 23.89 L678.60 23.40" stroke="#c8e0ee" stroke-width="1.4"/>
<path d="M423.00 173.85 L424.50 173.73 L426.00 173.61 L427.50 173.49 L429.00 173.38 L430.50 173.26 L432.00 173.14 L433.50 173.02 L435.00 172.91 L436.50 172.79 L438.00 172.67 L439.50 172.56 L441.00 172.44 L442.50 172.33 L444.00 172.21 L445.50 172.10 L447.00 171.98 L448.50 171.87 L450.00 171.75 L451.50 171.64 L453.00 171.53 L454.50 171.41 L456.00 171.30 L457.50 171.19 L459.00 171.08 L460.50 170.96 L462.00 170.85 L463.50 170.74 L465.00 170.63 L466.50 170.52 L468.00 170.40 L469.50 170.29 L471.00 170.18 L472.50 170.07 L474.00 169.96 L475.50 169.85 L477.00 169.74 L478.50 169.63 L480.00 169.52 L481.50 169.41 L483.00 169.30 L484.50 169.19 L486.00 169.09 L487.50 168.98 L489.00 168.87 L490.50 168.76 L492.00 168.65 L493.50 168.54 L495.00 168.43 L496.50 168.33 L498.00 168.22 L499.50 168.11 L501.00 168.00 L502.50 167.89 L504.00 167.79 L505.50 167.68 L507.00 167.57 L508.50 167.46 L510.00 167.35 L511.50 167.25 L513.00 167.14 L514.50 167.03 L516.00 166.92 L517.50 166.82 L519.00 166.71 L520.50 166.60 L522.00 166.49 L523.50 166.38 L525.00 166.28 L526.50 166.17 L528.00 166.06 L529.50 165.95 L531.00 165.84 L532.50 165.73 L534.00 165.62 L535.50 165.51 L537.00 165.40 L538.50 165.30 L540.00 165.19 L541.50 165.08 L543.00 164.97 L544.50 164.85 L546.00 164.74 L547.50 164.63 L549.00 164.52 L550.50 164.41 L552.00 164.30 L553.50 164.18 L555.00 164.07 L556.50 163.96 L558.00 163.84 L559.50 163.73 L561.00 163.61 L562.50 163.50 L564.00 163.38 L565.50 163.26 L567.00 163.14 L568.50 163.03 L570.00 162.91 L571.50 162.79 L573.00 162.67 L574.50 162.54 L576.00 162.42 L577.50 162.30 L579.00 162.17 L580.50 162.05 L582.00 161.92 L583.50 161.80 L585.00 161.67 L586.50 161.54 L588.00 161.41 L589.50 161.27 L591.00 161.14 L592.50 161.00 L594.00 160.87 L595.50 160.73 L597.00 160.59 L598.50 160.44 L600.00 160.30 L601.50 160.15 L603.00 160.01 L604.50 159.86 L606.00 159.70 L607.50 159.55 L609.00 159.39 L610.50 159.23 L612.00 159.07 L613.50 158.90 L615.00 158.73 L616.50 158.56 L618.00 158.39 L619.50 158.21 L621.00 158.02 L622.50 157.84 L624.00 157.64 L625.50 157.45 L627.00 157.25 L628.50 157.04 L630.00 156.83 L631.50 156.61 L633.00 156.38 L634.50 156.15 L636.00 155.91 L637.50 155.67 L639.00 155.41 L640.50 155.15 L642.00 154.87 L643.50 154.58 L645.00 154.29 L646.50 153.98 L648.00 153.65 L649.50 153.31 L649.97 153.20 L650.44 153.09 L650.91 152.97 L651.00 152.95 L651.38 152.86 L651.85 152.74 L652.00 152.70 L652.30 152.60 L652.76 152.44 L653.21 152.27 L653.65 152.08 L654.10 151.89 L654.54 151.69 L654.99 151.50 L655.43 151.33 L655.50 151.30 L655.89 151.16 L656.34 150.99 L656.79 150.83 L657.25 150.68 L657.71 150.52 L658.16 150.36 L658.62 150.20 L659.07 150.04 L659.53 149.88 L659.98 149.71 L660.00 149.70 L660.43 149.53 L660.88 149.36 L661.33 149.18 L661.77 148.99 L662.22 148.80 L662.66 148.61 L662.90 148.50 L663.10 148.41 L663.53 148.21 L663.97 148.00 L664.41 147.78 L664.84 147.56 L665.26 147.32 L665.67 147.08 L665.80 147.00 L666.07 146.82 L666.47 146.55 L666.87 146.27 L667.26 145.97 L667.63 145.67 L668.00 145.35 L668.36 145.03 L668.70 144.70 L668.70 144.70 L669.03 144.36 L669.36 144.00 L669.67 143.63 L669.98 143.25 L670.27 142.86 L670.56 142.47 L670.83 142.07 L671.00 141.80 L671.08 141.66 L671.33 141.25 L671.56 140.83 L671.78 140.40 L672.00 139.97 L672.21 139.53 L672.41 139.09 L672.50 138.90 L672.61 138.65 L672.82 138.21 L673.02 137.77 L673.21 137.33 L673.39 136.88 L673.56 136.43 L673.70 136.00 L673.71 135.97 L673.85 135.51 L673.98 135.05 L674.10 134.59 L674.22 134.12 L674.33 133.65 L674.43 133.17 L674.54 132.70 L674.64 132.23 L674.74 131.75 L674.84 131.28 L674.90 131.00 L674.94 130.81 L675.04 130.34 L675.14 129.87 L675.24 129.39 L675.34 128.92 L675.44 128.45 L675.54 127.97 L675.63 127.50 L675.72 127.02 L675.80 126.55 L675.88 126.07 L675.95 125.60 L676.00 125.20 L676.01 125.12 L676.07 124.64 L676.13 124.16 L676.18 123.69 L676.23 123.21 L676.28 122.73 L676.33 122.25 L676.38 121.76 L676.42 121.28 L676.46 120.80 L676.50 120.32 L676.54 119.84 L676.57 119.36 L676.60 119.00 L676.61 118.88 L676.64 118.40 L676.67 117.92 L676.71 117.43 L676.73 116.95 L676.76 116.47 L676.79 115.99 L676.82 115.51 L676.84 115.03 L676.87 114.54 L676.90 114.06 L676.92 113.58 L676.94 113.10 L676.97 112.62 L676.99 112.13 L677.02 111.65 L677.04 111.17 L677.06 110.69 L677.09 110.21 L677.11 109.72 L677.13 109.24 L677.16 108.76 L677.18 108.28 L677.20 108.00 L677.21 107.80 L677.24 107.32 L677.26 106.83 L677.29 106.35 L677.32 105.87 L677.35 105.39 L677.37 104.91 L677.40 104.43 L677.43 103.94 L677.46 103.46 L677.49 102.98 L677.51 102.50 L677.54 102.02 L677.57 101.54 L677.60 101.05 L677.62 100.57 L677.65 100.09 L677.68 99.61 L677.70 99.13 L677.73 98.65 L677.75 98.16 L677.78 97.68 L677.80 97.20 L677.82 96.72 L677.85 96.24 L677.87 95.75 L677.89 95.27 L677.90 95.00 L677.91 94.79 L677.93 94.31 L677.95 93.83 L677.97 93.34 L677.99 92.86 L678.01 92.38 L678.03 91.90" stroke="#f9b39b"/>
<path d="M678.03 91.90 L678.05 91.42 L678.07 90.93 L678.09 90.45 L678.11 89.97 L678.12 89.49 L678.14 89.01 L678.16 88.52 L678.18 88.04 L678.20 87.56 L678.21 87.08 L678.23 86.60 L678.25 86.11 L678.26 85.63 L678.28 85.15 L678.29 84.67 L678.31 84.18 L678.32 83.70 L678.33 83.22 L678.34 82.74 L678.36 82.25 L678.37 81.77 L678.38 81.29 L678.39 80.81 L678.39 80.33 L678.40 80.00 L678.40 79.84 L678.41 79.36 L678.42 78.88 L678.43 78.40 L678.43 77.91 L678.44 77.43 L678.45 76.95 L678.45 76.47 L678.46 75.98 L678.47 75.50 L678.48 75.02 L678.48 74.54 L678.49 74.06 L678.50 73.57 L678.50 73.09 L678.51 72.61 L678.51 72.13 L678.52 71.64 L678.53 71.16 L678.53 70.68 L678.54 70.20 L678.54 69.71 L678.55 69.23 L678.55 68.75 L678.56 68.27 L678.56 67.78 L678.57 67.30 L678.57 66.82 L678.57 66.34 L678.58 65.85 L678.58 65.37 L678.58 64.89 L678.59 64.41 L678.59 63.92 L678.59 63.44 L678.59 62.96 L678.60 62.48 L678.60 61.99 L678.60 61.51 L678.60 61.03 L678.60 60.55 L678.60 60.06 L678.60 60.00 L678.60 59.58 L678.60 59.10 L678.60 58.62 L678.60 58.14 L678.60 57.65 L678.60 57.17 L678.60 56.69 L678.60 56.21 L678.60 55.72 L678.60 55.24 L678.60 54.76 L678.60 54.28 L678.60 53.79 L678.60 53.31 L678.60 52.83 L678.60 52.35 L678.60 51.86 L678.60 51.38 L678.60 50.90 L678.60 50.42 L678.60 49.93 L678.60 49.45 L678.60 48.97 L678.60 48.49 L678.60 48.00 L678.60 47.52 L678.60 47.04 L678.60 46.56 L678.60 46.07 L678.60 45.59 L678.60 45.11 L678.60 44.63 L678.60 44.14 L678.60 43.66 L678.60 43.18 L678.60 42.70 L678.60 42.22 L678.60 41.73 L678.60 41.25 L678.60 40.77 L678.60 40.29 L678.60 39.80 L678.60 39.32 L678.60 38.84 L678.60 38.36 L678.60 37.87 L678.60 37.39 L678.60 36.91 L678.60 36.43 L678.60 35.94 L678.60 35.46 L678.60 34.98 L678.60 34.50 L678.60 34.01 L678.60 33.53 L678.60 33.05 L678.60 32.57 L678.60 32.08 L678.60 31.60 L678.60 31.12 L678.60 30.64 L678.60 30.15 L678.60 29.67 L678.60 29.19 L678.60 28.71 L678.60 28.22 L678.60 27.74 L678.60 27.26 L678.60 26.78 L678.60 26.29 L678.60 25.81 L678.60 25.33 L678.60 24.85 L678.60 24.36 L678.60 23.88 L678.60 23.40" stroke="#f9b39b" stroke-width="1.4"/>
</g>
<rect x="684.5" y="0" width="1" height="258" fill="#fff"/>
<g opacity="0.999">
<text transform="translate(46.15,233.20) scale(0.1630 0.1728)" font-size="100" text-anchor="middle">0</text>
<text transform="translate(100.04,233.20) scale(0.1630 0.1728)" font-size="100" text-anchor="middle">0.2</text>
<text transform="translate(153.93,233.20) scale(0.1630 0.1728)" font-size="100" text-anchor="middle">0.4</text>
<text transform="translate(207.83,233.20) scale(0.1630 0.1728)" font-size="100" text-anchor="middle">0.6</text>
<text transform="translate(261.72,233.20) scale(0.1630 0.1728)" font-size="100" text-anchor="middle">0.8</text>
<text transform="translate(315.61,233.20) scale(0.1630 0.1728)" font-size="100" text-anchor="middle">1</text>
<text transform="translate(41.00,218.45) scale(0.1630 0.1728)" font-size="100" text-anchor="end">0</text>
<text transform="translate(41.00,152.45) scale(0.1630 0.1728)" font-size="100" text-anchor="end">5</text>
<text transform="translate(41.00,86.45) scale(0.1630 0.1728)" font-size="100" text-anchor="end">10</text>
<text transform="translate(41.00,20.45) scale(0.1630 0.1728)" font-size="100" text-anchor="end">15</text>
<text transform="translate(-0.10,13.60) scale(0.2020 0.2020)" font-size="100" text-anchor="start" font-weight="bold">(a)</text>
<text transform="translate(14.8,113.9) rotate(-90)" font-size="19.8" x="-58.43 -47.53 -38.25 -29.56 -21.58 -13.60 -5.41 -0.43 10.08 21.96 28.35 38.44 51.43">Squeezing(dB)</text>
<text transform="matrix(0.17984 0 0 0.18955 152.911 253.158)" font-size="100" font-style="italic">G</text><text transform="matrix(0.19225 0 0 0.18955 187.943 253.158)" font-size="100" font-style="italic">G</text><path d="M168.90 252.25h9.1M173.30 247.9v8.8M204.00 252.45h8.2" stroke="#000" stroke-width="0.9" fill="none"/><path d="M180.10 258.6L187.15 239.5" stroke="#000" stroke-width="1.25" fill="none"/>
<path d="M146.60 28.80 h25" stroke="#b5c18a" stroke-width="1.80" fill="none"/><text transform="matrix(0.19031 0 0 0.16515 173.986 32.750)" font-size="100">Δ</text><text transform="matrix(0.11696 0 0 0.10935 186.649 34.750)" font-size="100" font-style="italic">k</text><path d="M198.80 24.45L207.60 28.65L198.80 32.85" stroke="#000" stroke-width="0.9" fill="none" stroke-linejoin="miter"/><text transform="matrix(0.15765 0 0 0.15556 213.409 32.894)" font-size="100">0</text><path d="M146.60 47.30 h25" stroke="#c8e0ee" stroke-width="1.80" fill="none"/><text transform="matrix(0.19031 0 0 0.16515 173.986 51.250)" font-size="100">Δ</text><text transform="matrix(0.11696 0 0 0.10935 186.649 53.250)" font-size="100" font-style="italic">k</text><path d="M197.90 45.55h10M197.90 48.70h10" stroke="#000" stroke-width="0.8" fill="none"/><text transform="matrix(0.15765 0 0 0.15556 213.409 51.394)" font-size="100">0</text><path d="M146.60 65.80 h25" stroke="#f9b39b" stroke-width="1.80" fill="none"/><text transform="matrix(0.19031 0 0 0.16515 173.986 69.750)" font-size="100">Δ</text><text transform="matrix(0.11696 0 0 0.10935 186.649 71.750)" font-size="100" font-style="italic">k</text><path d="M207.80 61.45L199.00 65.65L207.80 69.85" stroke="#000" stroke-width="0.9" fill="none" stroke-linejoin="miter"/><text transform="matrix(0.15765 0 0 0.15556 213.409 69.894)" font-size="100">0</text>
<text transform="translate(423.00,233.20) scale(0.1630 0.1728)" font-size="100" text-anchor="middle">0</text>
<text transform="translate(474.12,233.20) scale(0.1630 0.1728)" font-size="100" text-anchor="middle">0.2</text>
<text transform="translate(525.24,233.20) scale(0.1630 0.1728)" font-size="100" text-anchor="middle">0.4</text>
<text transform="translate(576.36,233.20) scale(0.1630 0.1728)" font-size="100" text-anchor="middle">0.6</text>
<text transform="translate(627.48,233.20) scale(0.1630 0.1728)" font-size="100" text-anchor="middle">0.8</text>
<text transform="translate(678.60,233.20) scale(0.1630 0.1728)" font-size="100" text-anchor="middle">1</text>
<text transform="translate(402.80,22.80) scale(0.1630 0.1695)" font-size="100" text-anchor="end">10</text>
<text transform="translate(417.80,14.80) scale(0.1380 0.1380)" font-size="100" text-anchor="end">10</text>
<text transform="translate(409.70,98.95) scale(0.1630 0.1695)" font-size="100" text-anchor="end">10</text>
<text transform="translate(417.80,90.95) scale(0.1380 0.1380)" font-size="100" text-anchor="end">5</text>
<text transform="translate(409.70,175.11) scale(0.1630 0.1695)" font-size="100" text-anchor="end">10</text>
<text transform="translate(417.80,167.11) scale(0.1380 0.1380)" font-size="100" text-anchor="end">0</text>
<text transform="translate(361.60,13.60) scale(0.2020 0.2020)" font-size="100" text-anchor="start" font-weight="bold">(b)</text>
<text transform="translate(378.4,113.4) rotate(-90)" font-size="20.1" text-anchor="middle">Population Number</text>
<text transform="matrix(0.17984 0 0 0.18955 522.611 253.158)" font-size="100" font-style="italic">G</text><text transform="matrix(0.19225 0 0 0.18955 557.643 253.158)" font-size="100" font-style="italic">G</text><path d="M538.60 252.25h9.1M543.00 247.9v8.8M573.70 252.45h8.2" stroke="#000" stroke-width="0.9" fill="none"/><path d="M549.80 258.6L556.85 239.5" stroke="#000" stroke-width="1.25" fill="none"/>
<path d="M450.80 28.80 h25" stroke="#b5c18a" stroke-width="1.80" fill="none"/><text transform="matrix(0.19031 0 0 0.16515 478.186 32.750)" font-size="100">Δ</text><text transform="matrix(0.11696 0 0 0.10935 490.849 34.750)" font-size="100" font-style="italic">k</text><path d="M503.00 24.45L511.80 28.65L503.00 32.85" stroke="#000" stroke-width="0.9" fill="none" stroke-linejoin="miter"/><text transform="matrix(0.15765 0 0 0.15556 517.609 32.894)" font-size="100">0</text><path d="M450.80 47.30 h25" stroke="#c8e0ee" stroke-width="1.80" fill="none"/><text transform="matrix(0.19031 0 0 0.16515 478.186 51.250)" font-size="100">Δ</text><text transform="matrix(0.11696 0 0 0.10935 490.849 53.250)" font-size="100" font-style="italic">k</text><path d="M502.10 45.55h10M502.10 48.70h10" stroke="#000" stroke-width="0.8" fill="none"/><text transform="matrix(0.15765 0 0 0.15556 517.609 51.394)" font-size="100">0</text><path d="M450.80 65.80 h25" stroke="#f9b39b" stroke-width="1.80" fill="none"/><text transform="matrix(0.19031 0 0 0.16515 478.186 69.750)" font-size="100">Δ</text><text transform="matrix(0.11696 0 0 0.10935 490.849 71.750)" font-size="100" font-style="italic">k</text><path d="M512.00 61.45L503.20 65.65L512.00 69.85" stroke="#000" stroke-width="0.9" fill="none" stroke-linejoin="miter"/><text transform="matrix(0.15765 0 0 0.15556 517.609 69.894)" font-size="100">0</text>
</g>
</svg></body></html>
